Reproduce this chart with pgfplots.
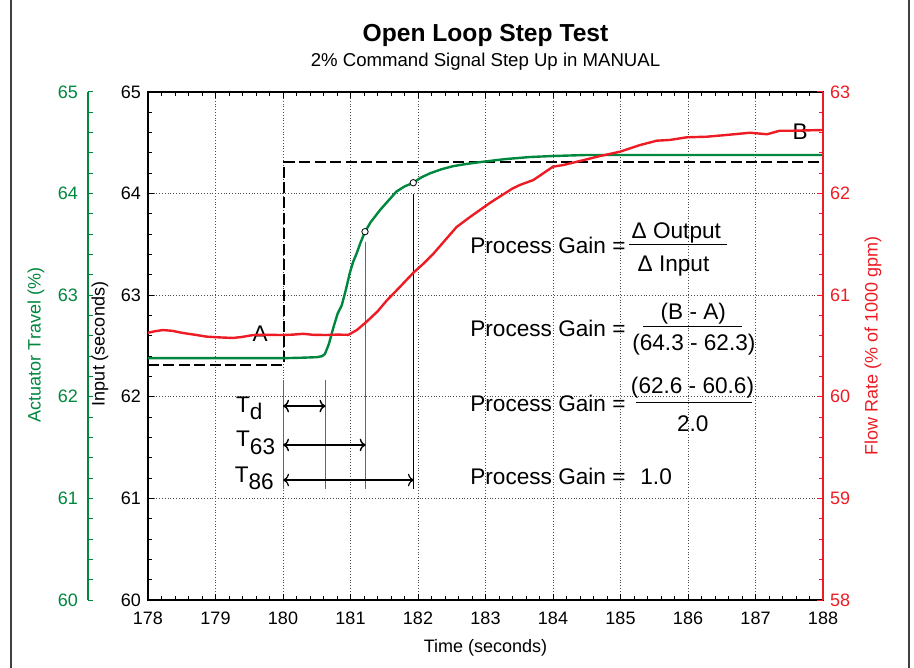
\documentclass[border=0pt]{standalone}
\usepackage{fontspec}
\setmainfont{Liberation Sans}
\usepackage{pgfplots}
\pgfplotsset{compat=1.18}
\usetikzlibrary{arrows.meta}
\definecolor{cgreen}{RGB}{0,135,62}
\definecolor{cred}{RGB}{237,28,36}
\newcommand{\pg}{\fontsize{11.3}{13}\selectfont}
\newcommand{\tl}{\fontsize{9}{10}\selectfont}
\newcommand{\al}{\fontsize{9}{11}\selectfont}
\begin{document}
\begin{tikzpicture}
\useasboundingbox (-74pt,-34pt) rectangle (383pt,300pt);
\draw[black!75, line width=1pt] (-68.5pt,-34pt) -- (-68.5pt,300pt);
\draw[black!75, line width=1pt] (380.5pt,-34pt) -- (380.5pt,300pt);

% green (actuator travel) axis
\begin{axis}[at={(-30pt,0pt)}, anchor=south west, scale only axis,
  width=20pt, height=254pt, axis x line=none, axis y line*=left,
  xmin=0, xmax=1, ymin=60, ymax=65, ytick={60,...,65}, minor y tick num=4,
  tick align=inside, major tick length=2.5pt, minor tick length=2.5pt,
  y axis line style={cgreen, line width=0.7pt, -},
  ytick style={cgreen, line width=0.5pt},
  yticklabel style={text=cgreen, font=\tl, xshift=-1.5pt},
  /pgf/number format/assume math mode=true]
\addplot[draw=none] coordinates {(0,60) (1,65)};
\end{axis}

% main axis (input)
\begin{axis}[at={(0pt,0pt)}, anchor=south west, scale only axis,
  width=337.5pt, height=254pt, clip=false,
  xmin=178, xmax=188, ymin=60, ymax=65,
  xtick={178,...,188}, ytick={60,...,65},
  minor x tick num=4, minor y tick num=4,
  xtick pos=both, ytick pos=left, xticklabel pos=bottom, yticklabel pos=left,
  tick align=inside, major tick length=3pt, minor tick length=2pt,
  grid=major, major grid style={densely dotted, black!70, line width=0.5pt},
  axis line style={black, line width=0.7pt},
  tick style={black, line width=0.5pt},
  tick label style={font=\tl},
  xticklabel style={yshift=-2.5pt},
  /pgf/number format/assume math mode=true]
\addplot[black, line width=1.2pt, dash pattern=on 5.5pt off 2.2pt] coordinates {(178,62.313) (180.015,62.313) (180.015,64.31) (188,64.31)};
\addplot[cgreen, line width=1.2pt] coordinates {
(178,62.38) (179.0,62.38) (180.0,62.38) (180.3,62.385) (180.5,62.39) (180.58,62.40)
(180.62,62.42) (180.68,62.52) (180.75,62.69) (180.81,62.82) (180.87,62.90)
(180.93,63.05) (180.99,63.22) (181.04,63.33) (181.09,63.41) (181.15,63.52)
(181.215,63.625) (181.3,63.72) (181.44,63.84) (181.56,63.93) (181.68,64.02)
(181.8,64.07) (181.93,64.107) (182.05,64.16) (182.18,64.20) (182.35,64.24)
(182.52,64.27) (182.7,64.29) (182.92,64.31) (183.3,64.34) (183.66,64.36)
(184.0,64.37) (184.5,64.38) (185,64.38) (188,64.38)};
\addplot[only marks, mark=*, mark size=1.6pt, mark options={fill=white, draw=black, line width=0.4pt}] coordinates {(181.215,63.625) (181.93,64.107)};

% timing lines and arrows
\draw[black!60, line width=0.5pt] (axis cs:180.0,62.165) -- (axis cs:180.0,61.093);
\draw[black!60, line width=0.5pt] (axis cs:180.63,62.165) -- (axis cs:180.63,61.093);
\draw[black!60, line width=0.5pt] (axis cs:181.225,63.527) -- (axis cs:181.225,61.09);
\draw[black, line width=0.5pt] (axis cs:181.94,63.996) -- (axis cs:181.94,61.093);
\draw[{To[length=3pt]}-{To[length=3pt]}, line width=0.7pt] (axis cs:180,61.909) -- (axis cs:180.63,61.909);
\draw[{To[length=3pt]}-{To[length=3pt]}, line width=0.7pt] (axis cs:180,61.526) -- (axis cs:181.225,61.526);
\draw[{To[length=3pt]}-{To[length=3pt]}, line width=0.6pt] (axis cs:180,61.181) -- (axis cs:181.94,61.181);

\node[anchor=base west, font=\pg, inner sep=0pt] at (axis cs:179.30,61.850) {T\raisebox{-0.35em}{d}};
\node[anchor=base west, font=\pg, inner sep=0pt] at (axis cs:179.30,61.506) {T\raisebox{-0.35em}{63}};
\node[anchor=base west, font=\pg, inner sep=0pt] at (axis cs:179.28,61.161) {T\raisebox{-0.35em}{86}};
\node[anchor=base, font=\pg, inner sep=0pt] at (axis cs:179.66,62.54) {A};
\node[anchor=base, font=\pg, inner sep=0pt] at (axis cs:187.66,64.528) {B};

% process gain equations
\node[anchor=base west, font=\pg, inner sep=0pt] at (axis cs:182.77,63.412) {Process Gain =};
\node[anchor=base, font=\pg, inner sep=0pt] at (axis cs:185.827,63.560) {Δ Output};
\draw[black, line width=0.6pt] (axis cs:185.126,63.501) -- (axis cs:186.582,63.501);
\node[anchor=base, font=\pg, inner sep=0pt] at (axis cs:185.785,63.238) {Δ Input};

\node[anchor=base west, font=\pg, inner sep=0pt] at (axis cs:182.77,62.598) {Process Gain =};
\node[anchor=base, font=\pg, inner sep=0pt] at (axis cs:186.079,62.763) {(B - A)};
\draw[black, line width=0.6pt] (axis cs:185.338,62.690) -- (axis cs:186.796,62.690);
\node[anchor=base, font=\pg, inner sep=0pt] at (axis cs:186.087,62.454) {(64.3 - 62.3)};

\node[anchor=base west, font=\pg, inner sep=0pt] at (axis cs:182.77,61.853) {Process Gain =};
\node[anchor=base, font=\pg, inner sep=0pt] at (axis cs:186.067,62.034) {(62.6 - 60.6)};
\draw[black, line width=0.6pt] (axis cs:185.230,61.946) -- (axis cs:186.944,61.946);
\node[anchor=base, font=\pg, inner sep=0pt] at (axis cs:186.071,61.657) {2.0};

\node[anchor=base west, font=\pg, inner sep=0pt] at (axis cs:182.77,61.132) {Process Gain =};
\node[anchor=base west, font=\pg, inner sep=0pt] at (axis cs:185.289,61.132) {1.0};
\end{axis}

% red (flow rate) axis
\begin{axis}[at={(0pt,0pt)}, anchor=south west, scale only axis,
  width=337.5pt, height=254pt, axis x line=none, axis y line*=right,
  xmin=178, xmax=188, ymin=58, ymax=63, ytick={58,...,63}, minor y tick num=4,
  tick align=inside, major tick length=3pt, minor tick length=2pt,
  y axis line style={cred, line width=0.8pt, -},
  ytick style={cred, line width=0.5pt},
  yticklabel style={text=cred, font=\tl},
  /pgf/number format/assume math mode=true]
\addplot[cred, line width=1.2pt] coordinates {
(178.0,60.63) (178.1,60.645) (178.22,60.657) (178.35,60.65) (178.52,60.628)
(178.7,60.61) (178.87,60.592) (179.05,60.585) (179.26,60.579) (179.4,60.59)
(179.56,60.608) (179.75,60.61) (180.0,60.608) (180.15,60.612) (180.3,60.62)
(180.45,60.61) (180.65,60.608) (180.8,60.612) (180.97,60.61) (181.1,60.66)
(181.24,60.74) (181.4,60.84) (181.54,60.95) (181.73,61.08) (181.93,61.22)
(182.08,61.31) (182.23,61.41) (182.4,61.54) (182.57,61.67) (182.75,61.76)
(182.92,61.84) (183.07,61.91) (183.21,61.97) (183.4,62.05) (183.51,62.085)
(183.71,62.134) (184.0,62.265) (184.15,62.281) (184.4,62.321) (184.7,62.37)
(184.99,62.412) (185.29,62.478) (185.54,62.521) (185.73,62.528) (185.98,62.554)
(186.28,62.56) (186.57,62.577) (186.92,62.599) (187.17,62.584) (187.36,62.619)
(187.56,62.619) (188.0,62.626)};
\end{axis}

% titles and labels
\node[font=\bfseries\fontsize{12.3}{14}\selectfont, anchor=base] at (168.75pt,279.2pt) {Open Loop Step Test};
\node[font=\fontsize{9.3}{11}\selectfont, anchor=base] at (168.75pt,266.7pt) {2\% Command Signal Step Up in MANUAL};
\node[font=\al, anchor=base] at (168.75pt,-26.5pt) {Time (seconds)};
\node[rotate=90, font=\al, text=cgreen] at (-56pt,127.5pt) {Actuator Travel (\%)};
\node[rotate=90, font=\al] at (-24pt,128pt) {Input (seconds)};
\node[rotate=90, font=\al, text=cred] at (362.5pt,127pt) {Flow Rate (\% of 1000 gpm)};
\end{tikzpicture}
\end{document}
